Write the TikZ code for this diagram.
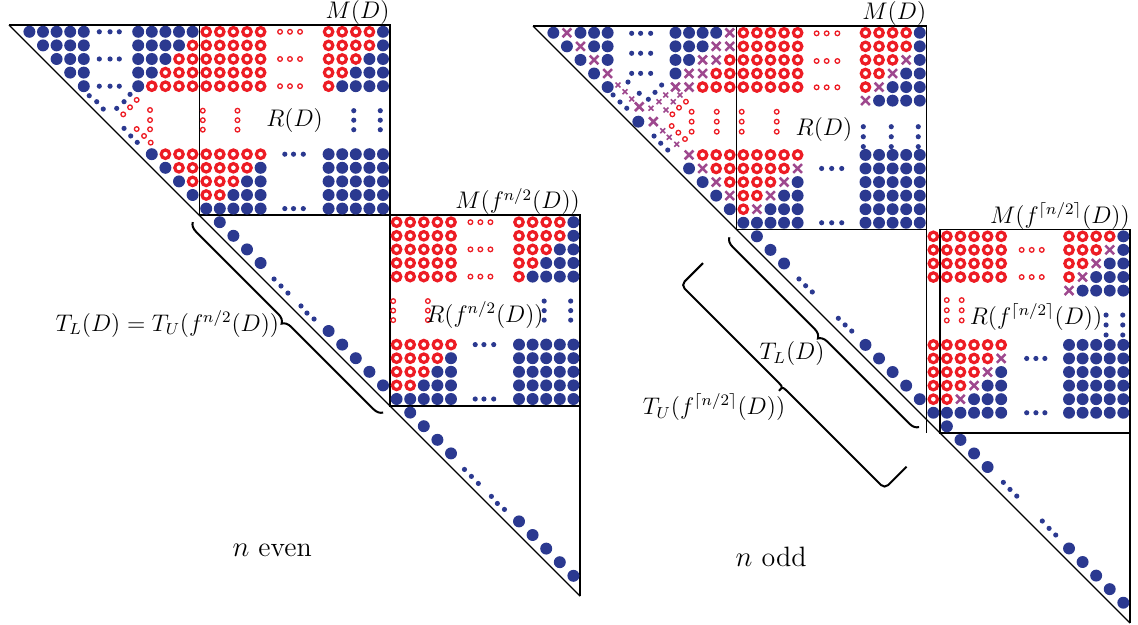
\documentclass[tikz,border=0pt]{standalone}
\usepackage{amsmath}
\usetikzlibrary{decorations.pathreplacing}

\definecolor{dotblue}{RGB}{43,57,144}
\definecolor{dotred}{RGB}{237,28,36}
\definecolor{dotpurple}{RGB}{158,72,142}

% entries: row, column
\newcommand{\bigdisc}[2]{\fill[dotblue] ({#2+.5},{#1+.5}) circle (.44);}
\newcommand{\bigring}[2]{\draw[dotred, line width=1.6pt] ({#2+.5},{#1+.5}) circle (.31);}
\newcommand{\bigcross}[2]{\draw[dotpurple, line width=1.3pt] ({#2+.5},{#1+.5}) +(-.32,-.32) -- +(.32,.32) +(-.32,.32) -- +(.32,-.32);}
% small dots: x, y
\newcommand{\smalldisc}[2]{\fill[dotblue] ({#1},{#2}) circle (.19);}
\newcommand{\smallring}[2]{\draw[dotred, line width=.65pt] ({#1},{#2}) circle (.17);}
\newcommand{\smallcross}[2]{\draw[dotpurple, line width=.8pt] ({#1},{#2}) +(-.18,-.18) -- +(.18,.18) +(-.18,.18) -- +(.18,-.18);}
% one row: rings before #4, crosses before #5, discs after
\newcommand{\markrow}[5]{\foreach \j in {#2,...,#3}{\ifnum\j<#4\relax\bigring{#1}{\j}\else\ifnum\j<#5\relax\bigcross{#1}{\j}\else\bigdisc{#1}{\j}\fi\fi}}

\begin{document}
\begin{tikzpicture}[x=0.5pt, y=-0.5pt,
  frame/.style={line width=0.9pt},
  diag/.style={line width=0.6pt},
  tbrace/.style={decorate, decoration={brace, amplitude=4.5pt}, line width=1pt},
  txt/.style={font=\fontsize{11.5}{13}\selectfont, inner sep=1pt},
  boxname/.style={txt, anchor=south east, inner sep=0pt},
  casename/.style={font=\fontsize{14}{16}\selectfont}]
 \useasboundingbox (0,0) rectangle (1138,625);

 % n even
 \begin{scope}[shift={(9,25)}, x=6.8pt, y=-6.8pt]
  \draw[frame] (0,0) -- (14,0);
  \draw[frame] (14,0) rectangle (28,14);
  \draw[frame] (28,14) rectangle (42,28);
  \draw[frame] (42,28) -- (42,42);
  \draw[diag] (0,0) -- (42,42);

  % first diagonal block
  \foreach \i in {0,...,4}{
    \pgfmathtruncatemacro\js{\i+1}
    \foreach \j in {\js,...,5}{\bigdisc{\i}{\j}}
    \foreach \j in {9,...,13}{
      \pgfmathtruncatemacro\sm{\i+\j}
      \ifnum\sm<14\relax\bigdisc{\i}{\j}\else\bigring{\i}{\j}\fi}}
  \foreach \y in {0.5,2.5,4.5}{\foreach \x in {6.64,7.43,8.11}{\smalldisc{\x}{\y}}}
  \foreach \i/\j in {9/10,10/11,11/12,12/13}{\bigdisc{\i}{\j}}
  \foreach \i/\j in {9/11,9/12,9/13,10/12,10/13,11/13}{\bigring{\i}{\j}}
  \foreach \x/\y in {5.90/5.20,6.45/5.64,6.93/6.18,7.92/6.13,8.46/5.64,8.90/5.10,8.46/7.60,8.95/8.16,9.43/8.63}{\smalldisc{\x}{\y}}
  \foreach \x/\y in {9.39/5.51,8.90/6.05,8.40/6.57,10.37/6.25,10.37/6.99,10.37/7.67,9.39/7.65,9.93/8.16,10.42/8.65}{\smallring{\x}{\y}}

  % the two M blocks
  \foreach \ox/\oy in {14/0,28/14}{
   \begin{scope}[shift={(\ox,\oy)}]
    \foreach \i in {0,...,4}{\markrow{\i}{0}{4}{5}{5}}
    \foreach \i/\ri in {0/13,1/13,2/12,3/11,4/10}{\markrow{\i}{9}{13}{\ri}{\ri}}
    \foreach \i/\ri in {9/5,10/4,11/3,12/2,13/0}{\markrow{\i}{0}{4}{\ri}{\ri}}
    \foreach \i in {9,...,13}{\markrow{\i}{9}{13}{0}{0}}
    \foreach \y in {0.5,2.5,4.5}{\foreach \x in {5.93,6.66,7.40}{\smallring{\x}{\y}}}
    \foreach \y in {9.5,13.5}{\foreach \x in {6.28,6.92,7.64}{\smalldisc{\x}{\y}}}
    \foreach \y in {6.3,7.0,7.7}{
      \foreach \x in {0.25,2.8}{\smallring{\x}{\y}}
      \foreach \x in {11.35,13.3}{\smalldisc{\x}{\y}}}
   \end{scope}}

  % the other diagonal blocks
  \foreach \o in {14,28}{
    \foreach \k in {0,1,2,3,8,9,10,11,12}{
      \pgfmathtruncatemacro\ia{\o+\k}
      \pgfmathtruncatemacro\ja{\o+\k+1}
      \bigdisc{\ia}{\ja}}
    \foreach \x/\y in {5.49/4.68,6.0/5.19,6.51/5.71,7.47/6.66,7.91/7.18,8.43/7.62}{\smalldisc{\o+\x}{\o+\y}}}

  % labels
  \node[boxname] (mdl) at (28,0) {$M(D)$};
  \node[boxname] (mfl) at (42,14) {$M(f^{n/2}(D))$};
  \node[txt] (rdl) at (21,7) {$R(D)$};
  \node[txt] (rfl) at (35,21.3) {$R(f^{n/2}(D))$};

  % brace
  \coordinate (lb1) at (13.51,14.49);
  \coordinate (lb2) at (27.51,28.49);
  \coordinate (tipL) at (20.04,21.96);
  \draw[tbrace] (lb2) -- (lb1);
  \node[txt, anchor=east] (tll) at (tipL) {$T_L(D) = T_U(f^{n/2}(D))$};

  \node[casename] (even) at (19.35,38.6) {$n$ even};
 \end{scope}

 % n odd
 \begin{scope}[shift={(533,26)}, x=6.785pt, y=-6.785pt]
  \draw[frame] (0,0) -- (15,0);
  \draw[frame] (15,0) rectangle (29,15);
  \draw[frame] (30,15) rectangle (44,30);
  \draw[frame] (29,15) -- (29,30);
  \draw[frame] (44,30) -- (44,44);
  \draw[diag] (0,0) -- (44,44);

  % first diagonal block
  \foreach \i/\j in {0/1,0/3,0/4,0/5,1/2,1/4,1/5,2/3,2/5,3/4,4/5,0/10,0/11,0/12,0/13,1/10,1/11,1/12,2/10,2/11,3/10}{\bigdisc{\i}{\j}}
  \foreach \i/\j in {0/2,1/3,2/4,3/5,0/14,1/13,1/14,2/12,2/13,3/11,3/12,4/10,4/11}{\bigcross{\i}{\j}}
  \foreach \i/\j in {2/14,3/13,3/14,4/12,4/13,4/14}{\bigring{\i}{\j}}
  \foreach \y in {0.54,2.01,3.49}{\foreach \x in {7.27,7.93,8.67}{\smalldisc{\x}{\y}}}
  \foreach \i/\j in {10/11,11/12,12/13,13/14}{\bigdisc{\i}{\j}}
  \foreach \i/\j in {9/11,10/12,11/13,12/14}{\bigcross{\i}{\j}}
  \foreach \i/\j in {9/12,9/13,9/14,10/13,10/14,11/14}{\bigring{\i}{\j}}
  \bigdisc{6.55}{7.26}
  \bigcross{5.45}{7.33}
  \bigcross{6.55}{8.37}
  \foreach \x/\y in {5.90/5.08,6.41/5.60,6.91/6.06,7.00/4.13,7.83/4.96,9.48/4.35,8.99/4.89,8.50/5.40,8.92/8.11,9.41/8.64,9.93/9.14}{\smalldisc{\x}{\y}}
  \foreach \x/\y in {6.26/4.35,6.78/4.84,7.27/5.38,8.70/6.06,9.29/5.58,9.78/5.08,10.34/5.58,10.83/5.08,9.80/6.19,9.56/7.72,10.04/8.20,10.59/8.72}{\smallcross{\x}{\y}}
  \foreach \x/\y in {11.27/5.58,10.76/6.02,10.27/6.51,10.22/7.37,10.71/7.86,11.20/8.33}{\smallring{\x}{\y}}
  \foreach \y in {6.32,7.05,7.79}{\foreach \x in {11.69,13.54,15.38,17.96}{\smallring{\x}{\y}}}

  % first M block
  \foreach \i in {0,...,4}{\markrow{\i}{15}{19}{20}{20}}
  \foreach \i/\ri/\di in {0/28/28,1/28/28,2/27/28,3/26/27,4/25/26,5/24/25}{\markrow{\i}{24}{28}{\ri}{\di}}
  \foreach \i/\ri/\di in {9/20/20,10/19/20,11/18/19,12/17/18,13/16/17,14/15/15}{\markrow{\i}{15}{19}{\ri}{\di}}
  \foreach \i in {9,...,14}{\markrow{\i}{24}{28}{0}{0}}
  \foreach \y in {0.54,2.58,4.52}{\foreach \x in {20.9,21.64,22.43}{\smallring{\x}{\y}}}
  \foreach \y in {10.5,14.5}{\foreach \x in {21.27,22.01,22.75}{\smalldisc{\x}{\y}}}
  \foreach \y in {7.42,8.16,8.89}{\foreach \x in {24.34,26.40,28.39}{\smalldisc{\x}{\y}}}

  % second M block
  \foreach \i in {15,...,18}{\markrow{\i}{29}{34}{35}{35}}
  \foreach \i/\ri/\di in {15/43/43,16/42/43,17/41/42,18/40/41,19/39/40}{\markrow{\i}{39}{43}{\ri}{\di}}
  \foreach \i/\ri/\di in {23/35/35,24/34/35,25/33/34,26/32/33,27/31/32,28/29/29}{\markrow{\i}{29}{34}{\ri}{\di}}
  \foreach \i in {23,...,28}{\markrow{\i}{39}{43}{0}{0}}
  \bigdisc{29}{30}
  \foreach \y in {16.5,18.5}{\foreach \x in {36.01,36.75,37.49}{\smallring{\x}{\y}}}
  \foreach \y in {24.5,28.5}{\foreach \x in {36.38,37.06,37.72}{\smalldisc{\x}{\y}}}
  \foreach \y in {20.2,20.95,21.7}{\foreach \x in {30.49,31.59}{\smallring{\x}{\y}}}
  \foreach \y in {21.3,22.03,22.77}{\foreach \x in {42.23,43.46}{\smalldisc{\x}{\y}}}

  % the other diagonal blocks
  \foreach \i in {15,16,17,23,24,25,26,27,30,31,32,38,39,40,41,42}{
    \pgfmathtruncatemacro\ja{\i+1}
    \bigdisc{\i}{\ja}}
  \foreach \x/\y in {19.60/18.64,20.09/19.14,20.58/19.60,22.50/21.54,23.00/22.03,23.49/22.48,34.66/33.63,35.15/34.15,35.65/34.64,37.53/36.48,38.03/37.02,38.52/37.51}{\smalldisc{\x}{\y}}

  % labels
  \node[boxname] (mdr) at (29,0) {$M(D)$};
  \node[boxname] (mfr) at (44,15) {$M(f^{\lceil n/2\rceil}(D))$};
  \node[txt] (rdr) at (21.44,7.66) {$R(D)$};
  \node[txt] (rfr) at (37.07,21.44) {$R(f^{\lceil n/2\rceil}(D))$};

  % braces
  \coordinate (rb1) at (14.45,15.55);
  \coordinate (rb2) at (28.45,29.55);
  \draw[tbrace] (rb2) -- (rb1);
  \node[txt] (tlr) at (19.09,24.17) {$T_L(D)$};

  \coordinate (ua) at (12.53,17.47);
  \coordinate (ub) at (10.91,19.09);
  \coordinate (uc) at (17.51,25.69);
  \coordinate (um) at (18.41,26.59);
  \coordinate (tipU) at (17.97,27.03);
  \coordinate (ud) at (19.31,27.49);
  \coordinate (ue) at (25.91,34.09);
  \coordinate (uf) at (27.53,32.47);
  \draw[line width=1pt, rounded corners=2.5pt] (ua) -- (ub) -- (uc) .. controls (um) .. (tipU) .. controls (um) .. (ud) -- (ue) -- (uf);
  \node[txt] (tur) at (13.34,28.08) {$T_U(f^{\lceil n/2\rceil}(D))$};

  \node[casename] (odd) at (17.54,39.13) {$n$ odd};
 \end{scope}
\end{tikzpicture}
\end{document}
